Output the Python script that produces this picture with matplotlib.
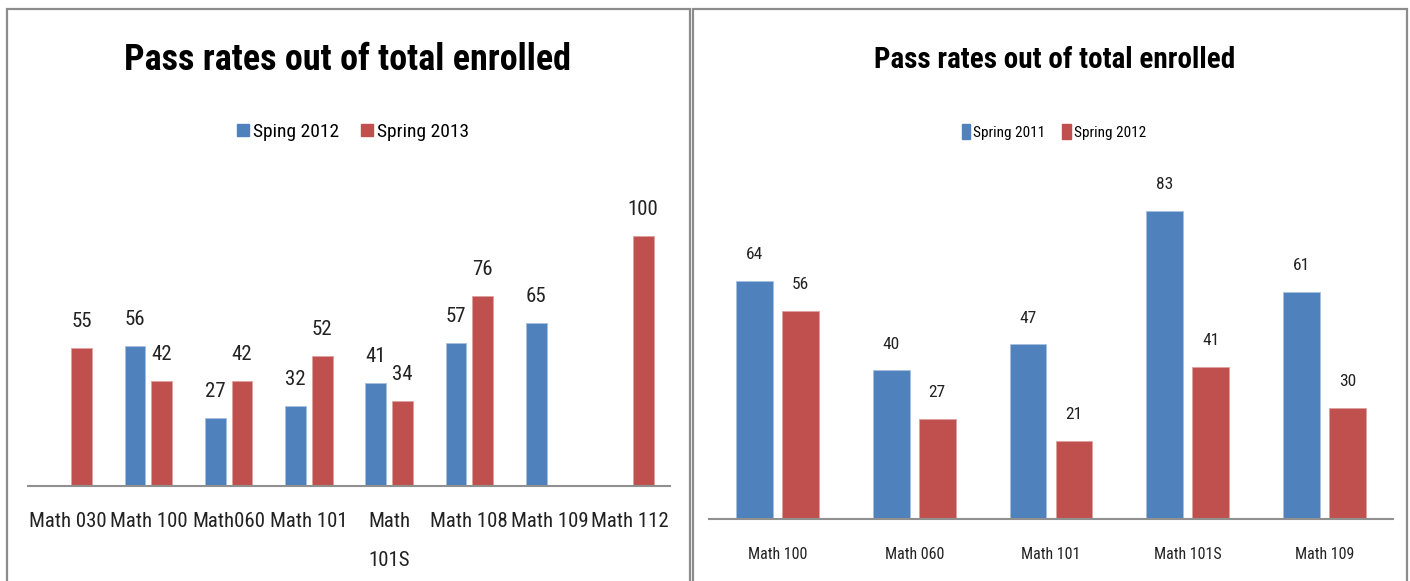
import numpy as np
import matplotlib
matplotlib.use("Agg")
import matplotlib.pyplot as plt
from matplotlib.patches import Rectangle, Patch

plt.rcParams['font.family'] = ['Roboto Condensed', 'Liberation Sans', 'DejaVu Sans']

BLUE = '#4F81BD'
RED = '#C0504D'
GRAY = '#8C8C8C'

# left chart: Spring 2012 vs Spring 2013
left_courses = ["Math 030", "Math 100", "Math060", "Math 101", "Math\n101S",
                "Math 108", "Math 109", "Math 112"]
left_2012 = [np.nan, 56, 27, 32, 41, 57, 65, np.nan]
left_2013 = [55, 42, 42, 52, 34, 76, np.nan, 100]

# right chart: Spring 2011 vs Spring 2012
right_courses = ["Math 100", "Math 060", "Math 101", "Math 101S", "Math 109"]
right_2011 = [64, 40, 47, 83, 61]
right_2012 = [56, 27, 21, 41, 30]

W, H = 1410, 581
fig = plt.figure(figsize=(W / 100, H / 100), dpi=100)

# chart frames
for x0, x1 in [(7, 689.5), (693, 1406.5)]:
    fig.patches.append(Rectangle((x0 / W, -0.05), (x1 - x0) / W, 1.05 - 9 / H,
                                 transform=fig.transFigure, fill=False,
                                 edgecolor=GRAY, linewidth=1.6))


def draw_bars(ax, courses, s1, s2, ymax, width, offset, lab_size, tick_size,
              tick_pad, linespacing=1.2):
    x = np.arange(len(courses))
    b1 = ax.bar(x - offset, s1, width, color=BLUE, edgecolor='#A7C0DE', linewidth=0.6)
    b2 = ax.bar(x + offset, s2, width, color=RED, edgecolor='#DDA09E', linewidth=0.6)
    for bars, vals in [(b1, s1), (b2, s2)]:
        for rect, v in zip(bars, vals):
            if np.isnan(v):
                continue
            ax.annotate(f"{v:g}", (rect.get_x() + rect.get_width() / 2, v),
                        xytext=(0, 19), textcoords='offset points',
                        ha='center', va='center', fontsize=lab_size, color='#222222')
    ax.set_xlim(-0.5, len(courses) - 0.5)
    ax.set_ylim(0, ymax)
    ax.set_xticks(x)
    ax.set_xticklabels(courses, fontsize=tick_size, color='#222222',
                       linespacing=linespacing, va='top')
    ax.tick_params(axis='x', length=0, pad=tick_pad)
    ax.set_yticks([])
    for side in ['top', 'left', 'right']:
        ax.spines[side].set_visible(False)
    ax.spines['bottom'].set_color('#909090')
    ax.spines['bottom'].set_linewidth(1.5)
    ax.patch.set_alpha(0)
    return b1, b2


# left axes: baseline at y=486 px, 2.505 px per percent
ax1 = fig.add_axes([28 / W, (H - 486) / H, 642 / W, 120 * 2.505 / H])
draw_bars(ax1, left_courses, left_2012, left_2013, 120, 0.257, 0.166,
          15, 15, 18.5, linespacing=2.35)

# right axes: baseline at y=519.3 px, 3.72 px per percent
ax2 = fig.add_axes([709.3 / W, (H - 519.3) / H, 683.4 / W, 90 * 3.72 / H])
draw_bars(ax2, right_courses, right_2011, right_2012, 90, 0.268, 0.168,
          12.5, 11.5, 20)

# titles
fig.text(348 / W, 1 - 60 / H, "Pass rates out of total enrolled",
         ha='center', va='center', fontsize=26, fontweight='bold')
fig.text(1055 / W, 1 - 60 / H, "Pass rates out of total enrolled",
         ha='center', va='center', fontsize=21, fontweight='bold')

# legends
fig.legend(handles=[Patch(color=BLUE, label='Sping 2012'),
                    Patch(color=RED, label='Spring 2013')],
           loc='center', bbox_to_anchor=(353 / W, 1 - 132 / H), ncol=2,
           frameon=False, fontsize=14, handlelength=0.62, handleheight=0.62,
           handletextpad=0.2, columnspacing=1.1)
fig.legend(handles=[Patch(color=BLUE, label='Spring 2011'),
                    Patch(color=RED, label='Spring 2012')],
           loc='center', bbox_to_anchor=(1054 / W, 1 - 132 / H), ncol=2,
           frameon=False, fontsize=11, handlelength=0.55, handleheight=1.1,
           handletextpad=0.2, columnspacing=1.1)

fig.savefig('out.png', dpi=100)
